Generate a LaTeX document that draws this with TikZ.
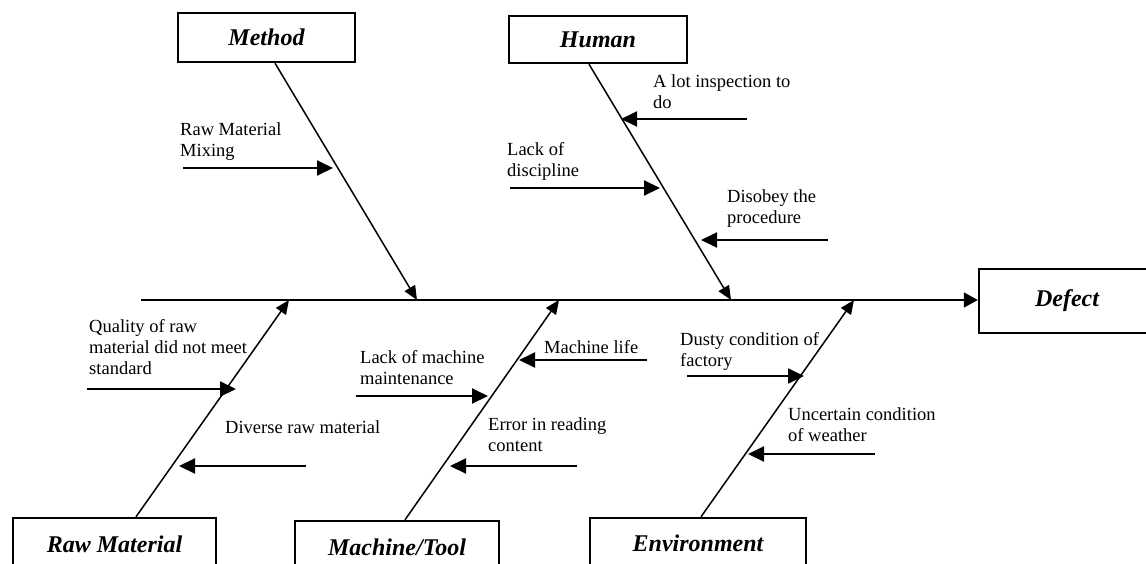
\documentclass[tikz,border=0pt]{standalone}
\usepackage{fontspec}
\setmainfont{Liberation Serif}
\usetikzlibrary{arrows.meta}
\newcommand\twolines[2]{\vtop{\hbox{#1}\hbox{#2}}}
\newcommand\threelines[3]{\vtop{\hbox{#1}\hbox{#2}\hbox{#3}}}
\begin{document}
\begin{tikzpicture}[x=1pt,y=-1pt,
  catbox/.style={draw, line width=2.4pt, inner sep=0pt, font=\fontsize{24}{28}\selectfont\bfseries\itshape},
  cause/.style={anchor=base west, inner sep=0pt, font=\fontsize{18.5}{21}\selectfont},
  bone/.style={line width=1.5pt, -{Triangle[length=14pt,width=12pt]}},
  subarrow/.style={line width=2pt, -{Triangle[length=16pt,width=15pt]}},
  spine/.style={line width=1.7pt, -{Triangle[length=14pt,width=15pt]}}]
\useasboundingbox (0,0) rectangle (1146,563);
\fill[white] (0,0) rectangle (1146,563);

% category boxes
\node[catbox, minimum width=177pt, minimum height=49pt] (method) at (266.5,37.5) {Method};
\node[catbox, minimum width=178pt, minimum height=47pt] (human) at (598,39.5) {Human};
\node[catbox, minimum width=176pt, minimum height=64pt] (defect) at (1067,301) {Defect};
\node[catbox, minimum width=203pt, minimum height=52pt] (raw) at (114.5,544) {Raw Material};
\node[catbox, minimum width=204pt, minimum height=52pt] (machine) at (397,547) {Machine/Tool};
\node[catbox, minimum width=216pt, minimum height=50pt] (env) at (698,543) {Environment};

% spine
\coordinate (spineL) at (141,300);
\draw[spine] (spineL) -- (spineL -| defect.west);

% bones
\coordinate (mTip) at (417,300);
\coordinate (hTip) at (731,300);
\coordinate (rTip) at (289,300);
\coordinate (tTip) at (559,300);
\coordinate (eTip) at (854,300);
\draw[bone] ([xshift=8.5pt]method.south) -- (mTip);
\draw[bone] ([xshift=-9pt]human.south) -- (hTip);
\draw[bone] ([xshift=21.5pt]raw.north) -- (rTip);
\draw[bone] ([xshift=8pt]machine.north) -- (tTip);
\draw[bone] ([xshift=3pt]env.north) -- (eTip);

% cause arrows
\coordinate (m1a) at (183,168);  \coordinate (m1b) at (333,168);
\coordinate (h1a) at (747,119);  \coordinate (h1b) at (621,119);
\coordinate (h2a) at (510,188);  \coordinate (h2b) at (660,188);
\coordinate (h3a) at (828,240);  \coordinate (h3b) at (701,240);
\coordinate (r1a) at (87,389);   \coordinate (r1b) at (236,389);
\coordinate (r2a) at (306,466);  \coordinate (r2b) at (179,466);
\coordinate (t1a) at (356,396);  \coordinate (t1b) at (488,396);
\coordinate (t2a) at (647,360);  \coordinate (t2b) at (519,360);
\coordinate (t3a) at (577,466);  \coordinate (t3b) at (450,466);
\coordinate (e1a) at (687,376);  \coordinate (e1b) at (804,376);
\coordinate (e2a) at (875,454);  \coordinate (e2b) at (748,454);
\foreach \c in {m1,h1,h2,h3,r1,r2,t1,t2,t3,e1,e2}
  \draw[subarrow] (\c a) -- (\c b);

% cause texts
\node[cause] (tm1) at (180,135) {\twolines{Raw Material}{Mixing}};
\node[cause] (th1) at (653,87) {\twolines{A lot inspection to}{do}};
\node[cause] (th2) at (507,155) {\twolines{Lack of}{discipline}};
\node[cause] (th3) at (727,202) {\twolines{Disobey the}{procedure}};
\node[cause] (tr1) at (89,332) {\threelines{Quality of raw}{material did not meet}{standard}};
\node[cause] (tr2) at (225,433) {Diverse raw material};
\node[cause] (tt1) at (360,363) {\twolines{Lack of machine}{maintenance}};
\node[cause] (tt2) at (544,353) {Machine life};
\node[cause] (tt3) at (488,430) {\twolines{Error in reading}{content}};
\node[cause] (te1) at (680,345) {\twolines{Dusty condition of}{factory}};
\node[cause] (te2) at (788,420) {\twolines{Uncertain condition}{of weather}};
\end{tikzpicture}
\end{document}
